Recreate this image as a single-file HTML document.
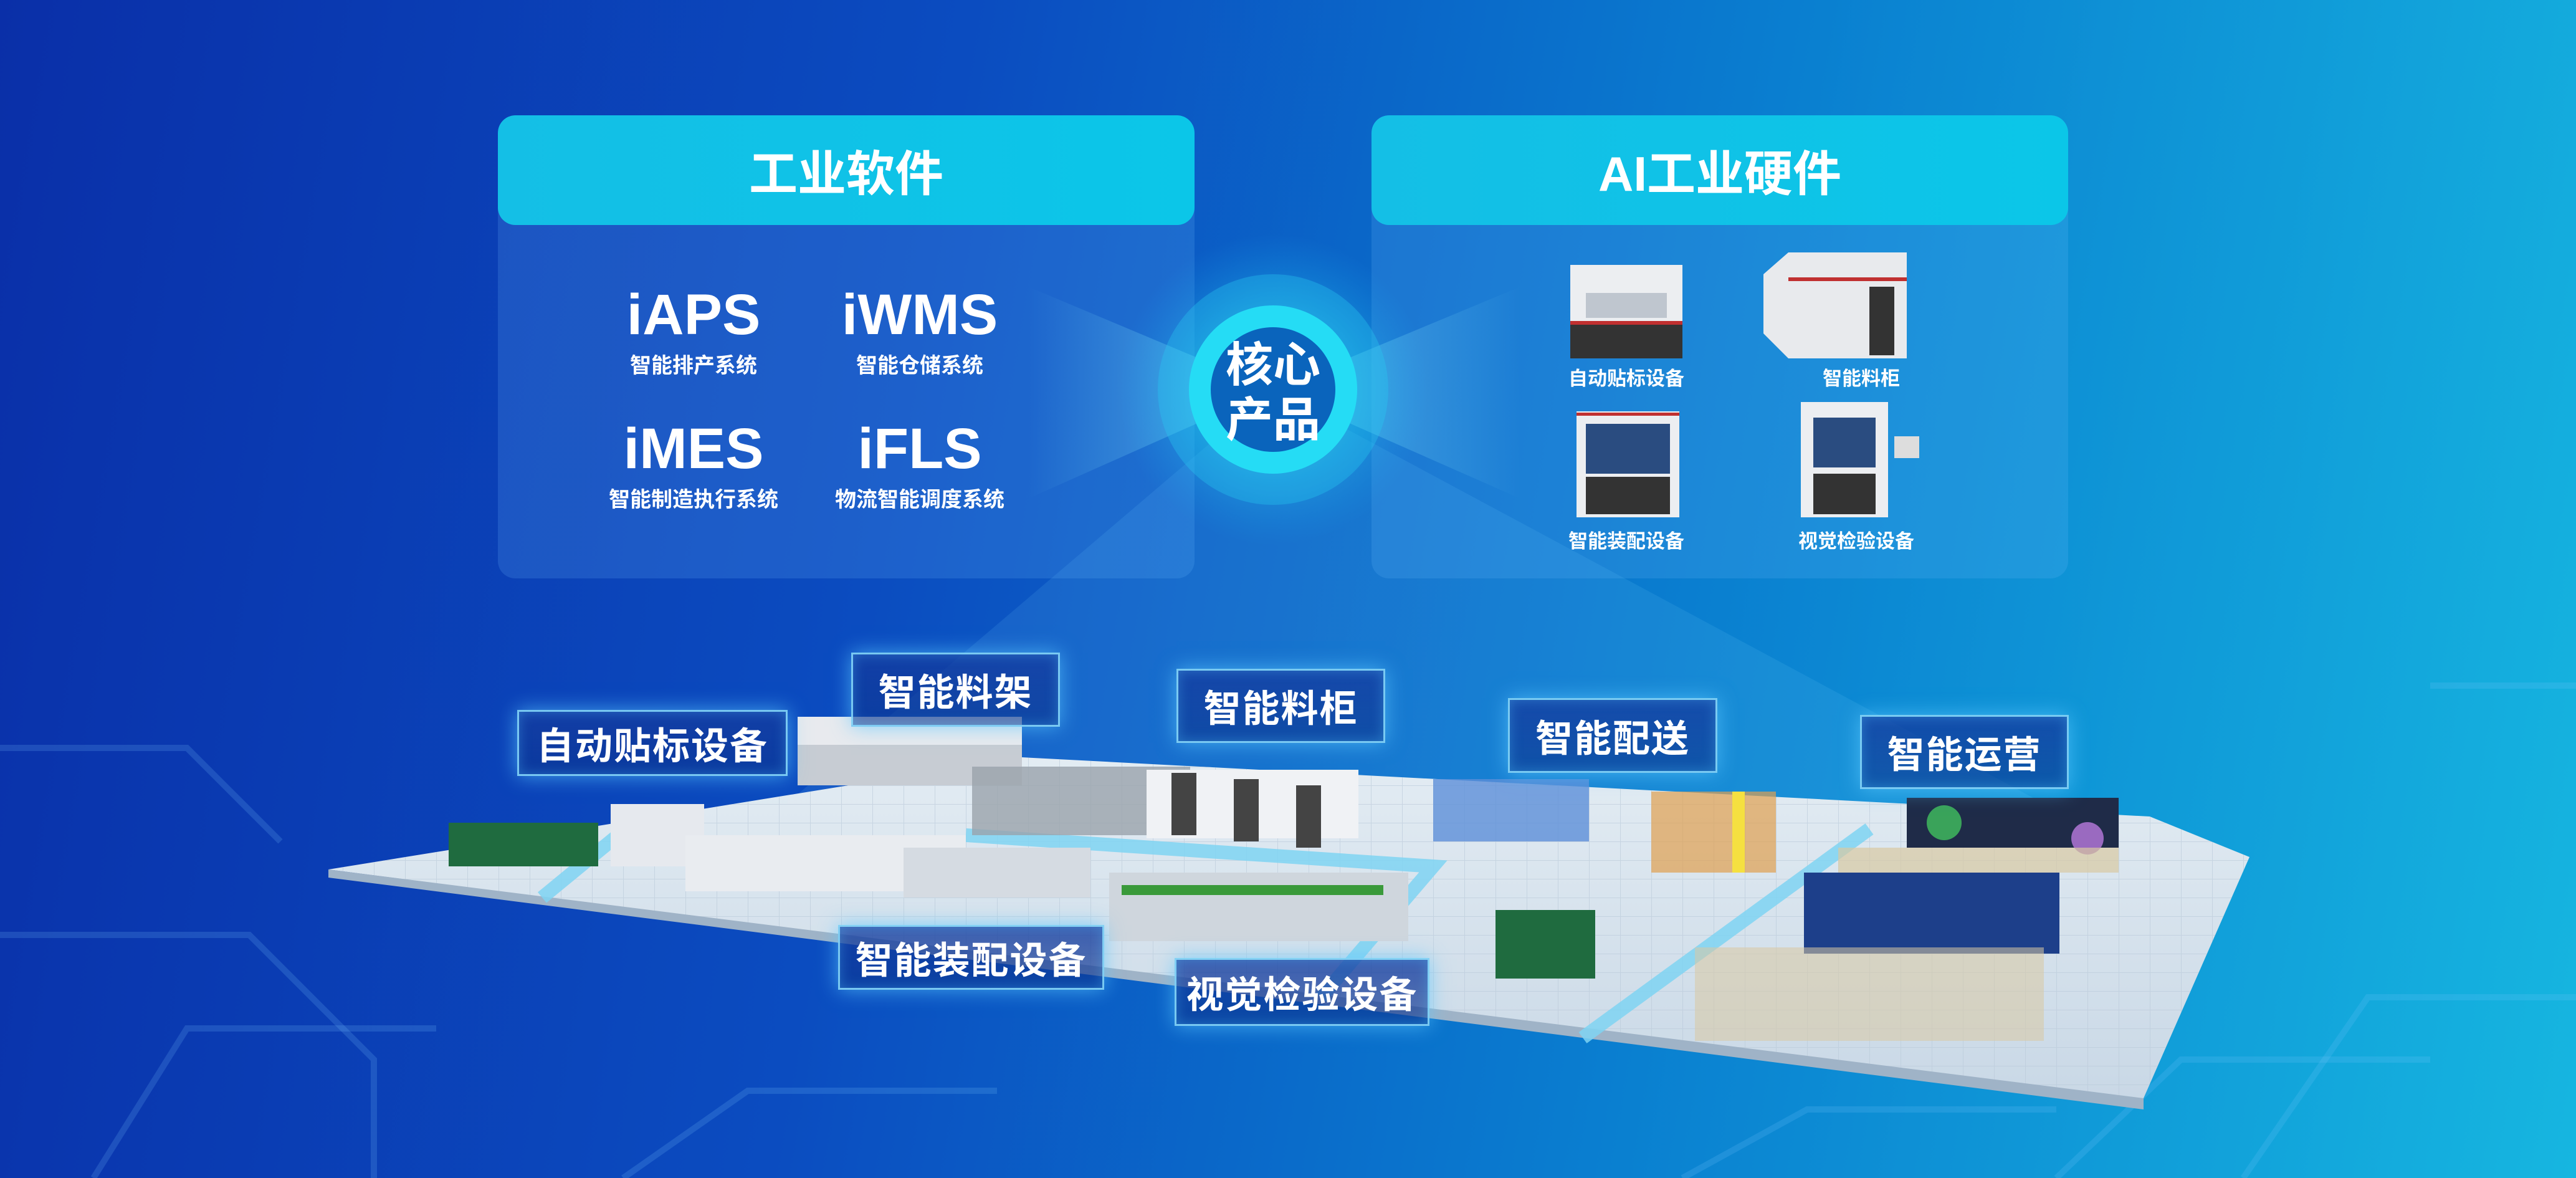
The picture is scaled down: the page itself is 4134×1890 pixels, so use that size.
<!DOCTYPE html>
<html><head><meta charset="utf-8"><style>
html,body{margin:0;padding:0;width:4134px;height:1890px;overflow:hidden}
body{background:linear-gradient(100deg,#0a2fa8 0%,#0b4cc0 35%,#0a7fd0 65%,#16b6e0 100%);font-family:"Liberation Sans","Noto Sans CJK SC",sans-serif;position:relative}
.abs{position:absolute}
.panel{position:absolute;top:185px;height:743px;width:1118px;border-radius:28px;background:rgba(110,190,255,0.18);overflow:hidden}
.hdr{height:176px;background:linear-gradient(90deg,#14bfe6,#0bc6e8);border-radius:28px;display:flex;align-items:center;justify-content:center;color:#fff;font-size:78px;font-weight:bold}
.sw{position:absolute;color:#fff;text-align:center;width:400px;margin-left:-200px}
.sw b{display:block;font-size:92px;line-height:100px;font-weight:bold}
.sw span{display:block;font-size:34px;font-weight:bold;margin-top:4px}
.hl{position:absolute;color:#fff;font-size:31px;font-weight:bold;width:300px;margin-left:-150px;text-align:center}
.tag{position:absolute;border:3px solid rgba(140,225,255,0.85);background:linear-gradient(180deg,rgba(20,60,160,0.8),rgba(10,50,140,0.6));box-shadow:0 0 30px rgba(90,200,255,0.7),inset 0 0 20px rgba(90,200,255,0.35);color:#fff;font-weight:bold;font-size:60px;display:flex;align-items:center;justify-content:center;letter-spacing:2px}
</style></head><body>
<svg class="abs" style="left:0;top:0" width="4134" height="1890">
<defs>
<radialGradient id="glow" cx="50%" cy="50%" r="50%">
<stop offset="0" stop-color="#6ff2ff" stop-opacity="0.9"/><stop offset="0.55" stop-color="#2cd6f5" stop-opacity="0.45"/><stop offset="1" stop-color="#1ab0f0" stop-opacity="0"/></radialGradient>
<linearGradient id="bl" x1="1" y1="0" x2="0" y2="0"><stop offset="0" stop-color="#8ef0ff" stop-opacity="0.45"/><stop offset="1" stop-color="#8ef0ff" stop-opacity="0"/></linearGradient>
<linearGradient id="br" x1="0" y1="0" x2="1" y2="0"><stop offset="0" stop-color="#8ef0ff" stop-opacity="0.45"/><stop offset="1" stop-color="#8ef0ff" stop-opacity="0"/></linearGradient>
<linearGradient id="floor" x1="0" y1="0" x2="0" y2="1"><stop offset="0" stop-color="#e3ecf3"/><stop offset="1" stop-color="#c9d8e6"/></linearGradient>
<pattern id="grid" width="50" height="30" patternUnits="userSpaceOnUse"><path d="M50 0H0V30" fill="none" stroke="#b8c8d8" stroke-width="2"/></pattern>
</defs>
<g stroke="rgba(120,200,255,0.18)" stroke-width="10" fill="none">
<path d="M0 1500 L400 1500 L600 1700 L600 1890"/><path d="M150 1890 L300 1650 L700 1650"/>
<path d="M3600 1890 L3800 1600 L4134 1600"/><path d="M3300 1890 L3500 1700 L3900 1700"/>
<path d="M1000 1890 L1200 1750 L1600 1750"/><path d="M2700 1890 L2900 1780 L3300 1780"/>
<path d="M0 1200 L300 1200 L450 1350"/><path d="M3900 1100 L4134 1100"/>
</g>
<polygon points="2043,625 1250,1300 3300,1300" fill="rgba(120,210,255,0.12)"/>
<polygon points="527,1395 1640,1215 3450,1310 3610,1375 3440,1762 3380,1760" fill="url(#floor)"/>
<polygon points="527,1395 1640,1215 3450,1310 3610,1375 3440,1762 3380,1760" fill="url(#grid)" opacity="0.6"/>
<polygon points="527,1395 3440,1762 3440,1780 527,1408" fill="#9fb3c7"/>
<g fill="none" stroke="#7fd4f2" stroke-width="22" opacity="0.85">
<path d="M870 1440 L1010 1325"/><path d="M1550 1340 L2300 1390 L2120 1600"/><path d="M3000 1330 L2540 1665"/>
</g>
<g>
<rect x="1280" y="1190" width="360" height="70" fill="#c7ccd3"/><rect x="1280" y="1150" width="360" height="45" fill="#e8eaee"/>
<rect x="1560" y="1230" width="350" height="110" fill="#9aa2ab" opacity="0.8"/>
<rect x="1840" y="1235" width="340" height="110" fill="#f0f2f5"/><rect x="1880" y="1240" width="40" height="100" fill="#444"/><rect x="1980" y="1250" width="40" height="100" fill="#444"/><rect x="2080" y="1260" width="40" height="100" fill="#444"/>
<rect x="2300" y="1250" width="250" height="100" fill="#5d8fd8" opacity="0.8"/>
<rect x="2650" y="1270" width="200" height="130" fill="#e0a050" opacity="0.7"/><rect x="2780" y="1270" width="20" height="130" fill="#f5e040"/>
<rect x="720" y="1320" width="240" height="70" fill="#1f6b3f"/><rect x="980" y="1290" width="150" height="100" fill="#e6e9ee"/>
<rect x="1100" y="1340" width="450" height="90" fill="#e9ecf0"/><rect x="1450" y="1360" width="300" height="80" fill="#d5dbe2"/>
<rect x="1780" y="1400" width="480" height="110" fill="#cfd6dd"/><rect x="1800" y="1420" width="420" height="16" fill="#3a9a3a"/>
<rect x="2400" y="1460" width="160" height="110" fill="#1f6b3f"/>
<rect x="3060" y="1280" width="340" height="80" fill="#1f2b48"/><circle cx="3120" cy="1320" r="28" fill="#3aa35a"/><circle cx="3350" cy="1345" r="26" fill="#9a6ac0"/>
<rect x="2895" y="1400" width="410" height="130" fill="#1d3f8a"/>
<rect x="2950" y="1360" width="450" height="40" fill="#d9c9a3" opacity="0.7"/>
<rect x="2720" y="1520" width="560" height="150" fill="#d9c9a3" opacity="0.55"/>
</g>
</svg>

<div class="panel" style="left:799px"><div class="hdr">工业软件</div></div>
<div class="panel" style="left:2201px"><div class="hdr">AI工业硬件</div></div>

<svg class="abs" style="left:0;top:0" width="4134" height="1890">
<polygon points="2043,625 1650,460 1650,800" fill="url(#bl)"/>
<polygon points="2043,625 2440,460 2440,800" fill="url(#br)"/>
<circle cx="2043" cy="625" r="250" fill="url(#glow)" opacity="0.75"/>
<circle cx="2043" cy="625" r="185" fill="rgba(40,200,240,0.35)"/>
<circle cx="2043" cy="625" r="135" fill="#25dcf5"/>
<circle cx="2043" cy="625" r="100" fill="#0a64bc"/>
<text x="2043" y="612" fill="#fff" font-size="76" font-weight="bold" text-anchor="middle" font-family="Liberation Sans,Noto Sans CJK SC,sans-serif">核心</text>
<text x="2043" y="700" fill="#fff" font-size="76" font-weight="bold" text-anchor="middle" font-family="Liberation Sans,Noto Sans CJK SC,sans-serif">产品</text>
<g>
<rect x="2520" y="425" width="180" height="150" fill="#eceef1"/><rect x="2520" y="520" width="180" height="55" fill="#333"/><rect x="2520" y="515" width="180" height="6" fill="#c03030"/><rect x="2545" y="470" width="130" height="40" fill="#bfc6cf"/>
<polygon points="2830,440 2870,405 3060,405 3060,575 2870,575 2830,535" fill="#e8eaed"/><rect x="2870" y="445" width="190" height="6" fill="#c03030"/><rect x="3000" y="460" width="40" height="110" fill="#333"/>
<rect x="2530" y="660" width="165" height="170" fill="#eceef1"/><rect x="2545" y="680" width="135" height="80" fill="#2a4c80"/><rect x="2545" y="765" width="135" height="60" fill="#333"/><rect x="2530" y="662" width="165" height="5" fill="#c03030"/>
<rect x="2890" y="645" width="140" height="185" fill="#eceef1"/><rect x="2910" y="670" width="100" height="80" fill="#2a4c80"/><rect x="2910" y="760" width="100" height="65" fill="#333"/><rect x="3040" y="700" width="40" height="35" fill="#ddd"/>
</g>
</svg>
<div class="sw" style="left:1113px;top:455px"><b>iAPS</b><span>智能排产系统</span></div>
<div class="sw" style="left:1476px;top:455px"><b>iWMS</b><span>智能仓储系统</span></div>
<div class="sw" style="left:1113px;top:670px"><b>iMES</b><span>智能制造执行系统</span></div>
<div class="sw" style="left:1476px;top:670px"><b>iFLS</b><span>物流智能调度系统</span></div>
<div class="hl" style="left:2610px;top:582px">自动贴标设备</div>
<div class="hl" style="left:2987px;top:582px">智能料柜</div>
<div class="hl" style="left:2610px;top:843px">智能装配设备</div>
<div class="hl" style="left:2979px;top:843px">视觉检验设备</div>

<div class="tag" style="left:830px;top:1139px;width:428px;height:100px">自动贴标设备</div>
<div class="tag" style="left:1366px;top:1047px;width:329px;height:113px">智能料架</div>
<div class="tag" style="left:1888px;top:1073px;width:329px;height:113px">智能料柜</div>
<div class="tag" style="left:2420px;top:1120px;width:330px;height:114px">智能配送</div>
<div class="tag" style="left:2985px;top:1147px;width:329px;height:113px">智能运营</div>
<div class="tag" style="left:1345px;top:1484px;width:421px;height:98px">智能装配设备</div>
<div class="tag" style="left:1885px;top:1537px;width:403px;height:103px">视觉检验设备</div>
</body></html>
